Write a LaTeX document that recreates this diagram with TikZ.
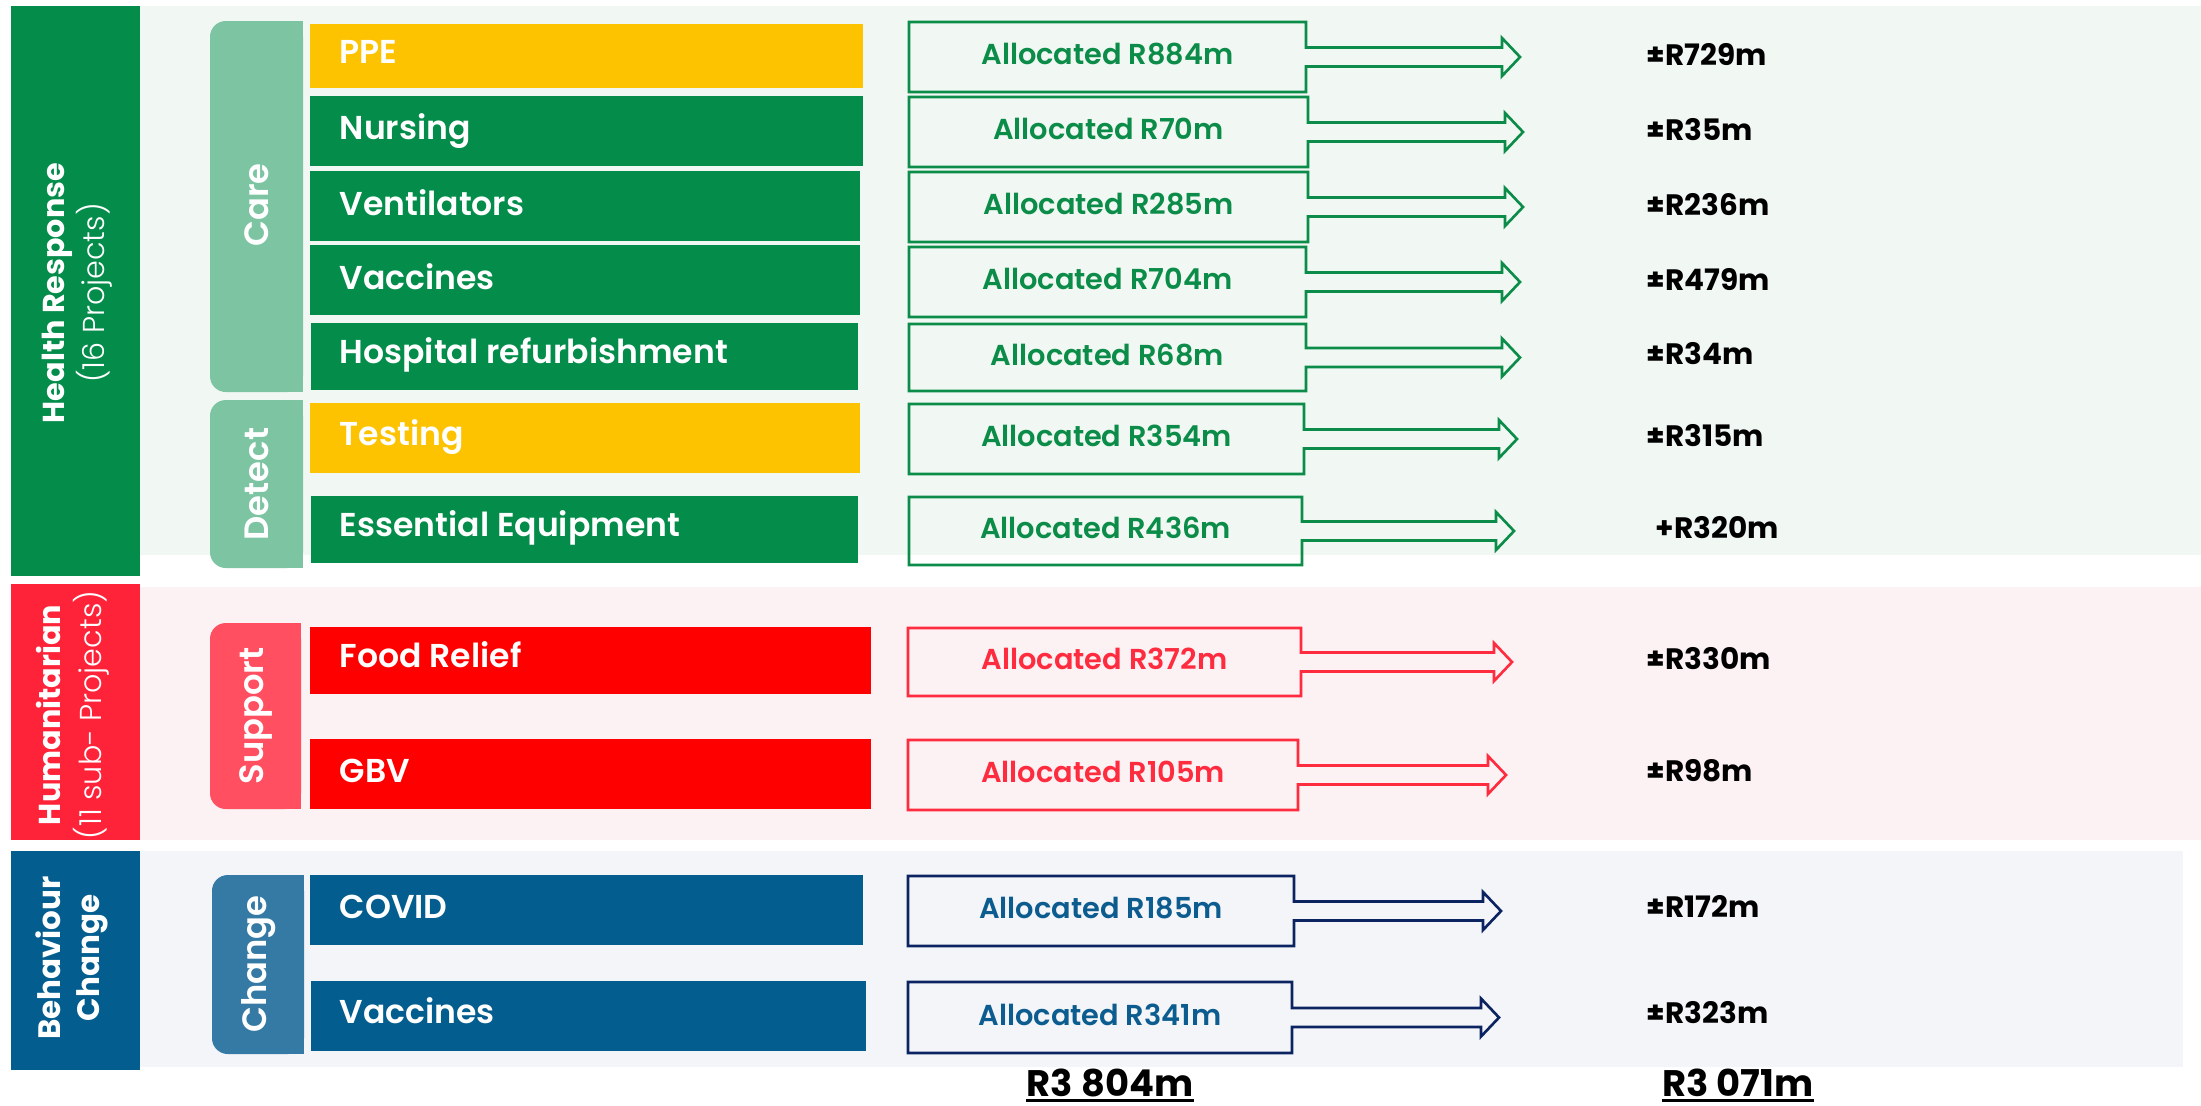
\documentclass[tikz,border=0pt]{standalone}
\usepackage{fontspec}
\setmainfont{Poppins}
\newfontfamily\semib{Poppins}[UprightFont=* SemiBold]
\newfontfamily\boldf{Poppins}[UprightFont=* Bold]
\newfontfamily\lightf{Poppins}[UprightFont=* Light]
\usetikzlibrary{calc}
\definecolor{hgreen}{HTML}{038C4A}
\definecolor{hgreenbg}{HTML}{F1F7F3}
\definecolor{carec}{HTML}{7DC4A3}
\definecolor{yel}{HTML}{FDC300}
\definecolor{hred}{HTML}{FF2339}
\definecolor{redbg}{HTML}{FCF2F3}
\definecolor{supc}{HTML}{FF4F61}
\definecolor{itred}{HTML}{FF0000}
\definecolor{allred}{HTML}{FF2B3F}
\definecolor{hblue}{HTML}{035D8F}
\definecolor{bluebg}{HTML}{F4F5F9}
\definecolor{chgc}{HTML}{357AA5}
\definecolor{navy}{HTML}{0B2461}
\definecolor{alltextblue}{HTML}{0C5C8F}
\definecolor{allgreen}{HTML}{0B8C48}
\tikzset{
  grouplbl/.style={rotate=90, text=white, inner sep=0pt, align=center},
  sublbl/.style={rotate=90, text=white, inner sep=0pt, font=\semib\fontsize{9.6}{11}\selectfont},
  itemlbl/.style={anchor=base west, text=white, inner sep=0pt, font=\semib\fontsize{9.4}{11}\selectfont},
  alloctext/.style={anchor=base, inner sep=0pt, font=\semib\fontsize{8.2}{10}\selectfont},
  allocline/.style={line width=0.75pt, line join=miter},
  valtext/.style={anchor=base west, inner sep=0pt, text=black, font=\boldf\fontsize{8.4}{10}\selectfont},
  totaltext/.style={anchor=base, inner sep=0pt, text=black, font=\boldf\fontsize{10.5}{12}\selectfont}
}
% #1 name, #2 left, #3 top, #4 right, #5 bottom, #6 tip x, #7 text, #8 line colour, #9 text colour
\newcommand\allocrow[9]{%
  \pgfmathsetmacro\cy{(#3+#5)/2}%
  \coordinate (#1tip) at (#6,\cy);
  \draw[allocline, draw=#8] (#2,#3) -- (#4,#3) -- (#4,\cy-9.5) -- (#6-18,\cy-9.5) -- (#6-18,\cy-19)
     -- (#1tip) -- (#6-18,\cy+19) -- (#6-18,\cy+9.5) -- (#4,\cy+9.5) -- (#4,#5) -- (#2,#5) -- cycle;
  \node[alloctext, text=#9] (#1) at ({(#2+#4)/2},\cy+7.5) {#7};
}
% #1 left #2 top #3 right #4 bottom #5 colour
\newcommand\groupbox[5]{%
  \fill[#5, rounded corners=4.5pt] (#1,#2) rectangle (#3,#4);
  \fill[#5] ({(#1+#3)/2},#2) rectangle (#3,#4);
}
\begin{document}
\begin{tikzpicture}[x=0.01cm, y=-0.01cm]
\fill[white] (0,0) rectangle (2201,1105);
\useasboundingbox (0,0) rectangle (2201,1105);

% backgrounds
\fill[hgreenbg] (140,6) rectangle (2201,555);
\fill[redbg] (140,587) rectangle (2201,840);
\fill[bluebg] (140,851) rectangle (2183,1067);

% left category bars
\fill[hgreen] (11,6) rectangle (140,576);
\fill[hred] (11,584) rectangle (140,840);
\fill[hblue] (11,851) rectangle (140,1070);
\node[grouplbl] (health) at (77,293) {{\boldf\fontsize{8.6}{10}\selectfont Health Response}\\[-0.5pt]{\lightf\fontsize{8.6}{10}\selectfont (16 Projects)}};
\node[grouplbl] (human) at (73,715) {{\boldf\fontsize{8.6}{10}\selectfont Humanitarian}\\[-0.5pt]{\lightf\fontsize{8.6}{10}\selectfont (11 sub- Projects)}};
\node[grouplbl] (behav) at (72,958) {{\boldf\fontsize{8.8}{10.2}\selectfont Behaviour}\\[-1pt]{\boldf\fontsize{8.8}{10.2}\selectfont Change}};

% sub-group boxes
\groupbox{210}{21}{303}{392}{carec}
\groupbox{210}{400}{303}{568}{carec}
\groupbox{210}{623}{301}{809}{supc}
\groupbox{212}{875}{304}{1054}{chgc}
\node[sublbl] (care) at (257,205) {Care};
\node[sublbl] (detect) at (257,484) {Detect};
\node[sublbl] (support) at (256,716) {Support};
\node[sublbl] (change) at (259,964) {Change};

% item bars
\fill[yel] (310,24) rectangle (863,88);
\fill[hgreen] (310,96) rectangle (863,166);
\fill[hgreen] (310,171) rectangle (860,241);
\fill[hgreen] (310,245) rectangle (860,315);
\fill[hgreen] (311,323) rectangle (858,390);
\fill[yel] (310,403) rectangle (860,473);
\fill[hgreen] (311,496) rectangle (858,563);
\fill[itred] (310,627) rectangle (871,694);
\fill[itred] (310,739) rectangle (871,809);
\fill[hblue] (310,875) rectangle (863,945);
\fill[hblue] (311,981) rectangle (866,1051);

\node[itemlbl] (ppe) at (339,63) {PPE};
\node[itemlbl] (nurs) at (339,139) {Nursing};
\node[itemlbl] (vent) at (339,215) {Ventilators};
\node[itemlbl] (vacc) at (339,289) {Vaccines};
\node[itemlbl] (hosp) at (339,363) {Hospital refurbishment};
\node[itemlbl] (test) at (339,445) {Testing};
\node[itemlbl] (equip) at (339,536) {Essential Equipment};
\node[itemlbl] (food) at (339,667) {Food Relief};
\node[itemlbl] (gbv) at (339,782) {GBV};
\node[itemlbl] (covid) at (339,918) {COVID};
\node[itemlbl] (bvacc) at (339,1023) {Vaccines};

% allocation boxes with arrows
\allocrow{a1}{909}{22}{1306}{92}{1520}{Allocated R884m}{allgreen}{allgreen}
\allocrow{a2}{909}{97}{1308}{167}{1523}{Allocated R70m}{allgreen}{allgreen}
\allocrow{a3}{909}{172}{1308}{242}{1523}{Allocated R285m}{allgreen}{allgreen}
\allocrow{a4}{909}{247}{1306}{317}{1520}{Allocated R704m}{allgreen}{allgreen}
\allocrow{a5}{909}{324}{1306}{391}{1520}{Allocated R68m}{allgreen}{allgreen}
\allocrow{a6}{909}{404}{1304}{474}{1517}{Allocated R354m}{allgreen}{allgreen}
\allocrow{a7}{909}{497}{1302}{565}{1514}{Allocated R436m}{allgreen}{allgreen}
\allocrow{a8}{908}{628}{1301}{696}{1512}{Allocated R372m}{allred}{allred}
\allocrow{a9}{908}{740}{1298}{810}{1506}{Allocated R105m}{allred}{allred}
\allocrow{a10}{908}{876}{1294}{946}{1501}{Allocated R185m}{navy}{alltextblue}
\allocrow{a11}{908}{982}{1292}{1053}{1499}{Allocated R341m}{navy}{alltextblue}

% values
\node[valtext] (v1) at (1646,65) {±R729m};
\node[valtext] (v2) at (1646,140) {±R35m};
\node[valtext] (v3) at (1646,215) {±R236m};
\node[valtext] (v4) at (1646,290) {±R479m};
\node[valtext] (v5) at (1646,364) {±R34m};
\node[valtext] (v6) at (1646,446) {±R315m};
\node[valtext] (v7) at (1655,538) {+R320m};
\node[valtext] (v8) at (1646,669) {±R330m};
\node[valtext] (v9) at (1646,781) {±R98m};
\node[valtext] (v10) at (1646,917) {±R172m};
\node[valtext] (v11) at (1646,1023) {±R323m};

% totals
\node[totaltext] (t1) at (1110,1096) {R3 804m};
\node[totaltext] (t2) at (1738,1096) {R3 071m};
\draw[line width=1pt] ($(t1.base west)+(0,4.5)$) -- ($(t1.base east)+(0,4.5)$);
\draw[line width=1pt] ($(t2.base west)+(0,4.5)$) -- ($(t2.base east)+(0,4.5)$);
\end{tikzpicture}
\end{document}
